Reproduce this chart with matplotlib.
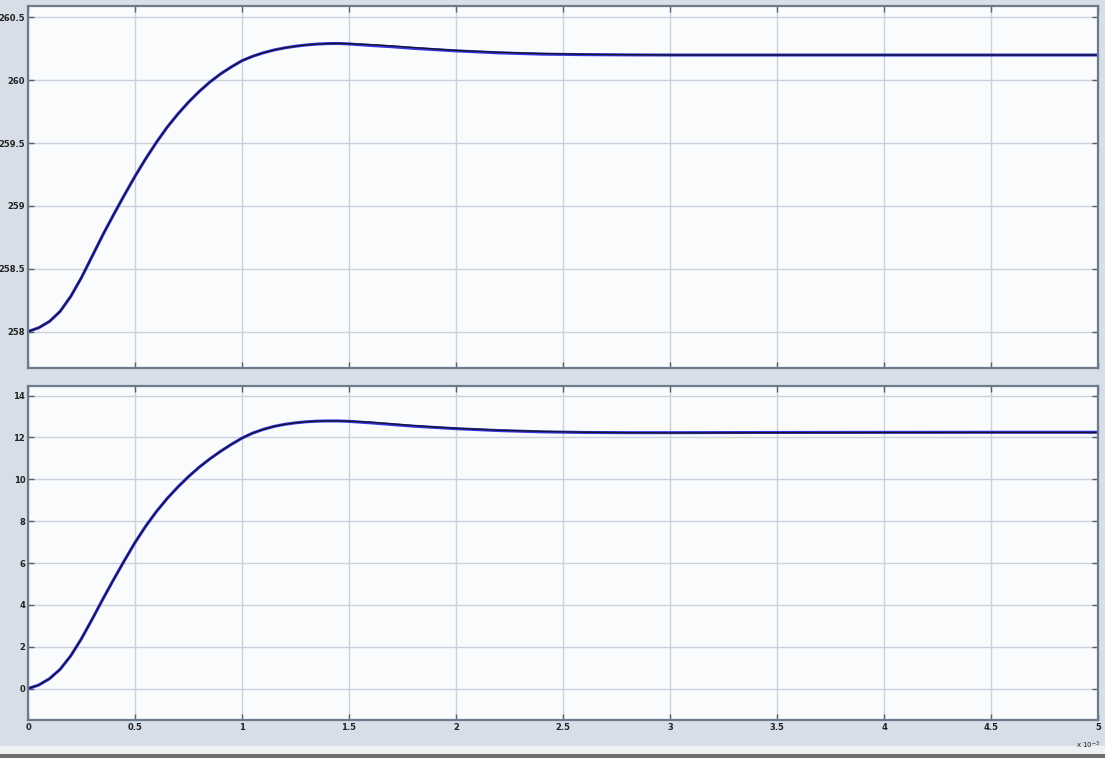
import matplotlib
matplotlib.use("Agg")
import matplotlib.pyplot as plt
from matplotlib.patches import Rectangle

# scope traces, time axis in units of 1e-3 s
t = [0.00, 0.05, 0.10, 0.15, 0.20, 0.25, 0.30, 0.35, 0.40, 0.45,
     0.50, 0.55, 0.60, 0.65, 0.70, 0.75, 0.80, 0.85, 0.90, 0.95,
     1.00, 1.05, 1.10, 1.15, 1.20, 1.25, 1.30, 1.35, 1.40, 1.45,
     1.50, 1.60, 1.70, 1.80, 1.90, 2.00, 2.20, 2.40, 2.60, 2.80,
     3.00, 3.50, 4.00, 4.50, 5.00]

# upper trace
top_ref = [258.00, 258.03, 258.08, 258.16, 258.28, 258.43, 258.60, 258.77, 258.93, 259.085,
           259.235, 259.375, 259.505, 259.625, 259.73, 259.825, 259.91, 259.985, 260.05, 260.105,
           260.155, 260.19, 260.218, 260.24, 260.257, 260.27, 260.28, 260.287, 260.291, 260.292,
           260.29, 260.283, 260.272, 260.26, 260.248, 260.237, 260.222, 260.212, 260.206, 260.203,
           260.20, 260.20, 260.20, 260.20, 260.20]
top_sim = [258.00, 258.03, 258.08, 258.16, 258.28, 258.43, 258.60, 258.77, 258.93, 259.085,
           259.235, 259.375, 259.505, 259.625, 259.73, 259.825, 259.91, 259.985, 260.05, 260.105,
           260.155, 260.19, 260.218, 260.24, 260.257, 260.27, 260.28, 260.287, 260.291, 260.292,
           260.288, 260.276, 260.266, 260.253, 260.243, 260.233, 260.217, 260.207, 260.203, 260.201,
           260.20, 260.20, 260.20, 260.20, 260.20]

# lower trace
bot_ref = [0.00, 0.17, 0.47, 0.92, 1.57, 2.39, 3.32, 4.28, 5.21, 6.11,
           6.98, 7.76, 8.46, 9.08, 9.63, 10.13, 10.58, 10.98, 11.34, 11.67,
           11.97, 12.21, 12.39, 12.53, 12.63, 12.70, 12.75, 12.78, 12.79, 12.79,
           12.78, 12.73, 12.65, 12.57, 12.50, 12.44, 12.35, 12.29, 12.25, 12.23,
           12.22, 12.23, 12.235, 12.24, 12.24]
bot_sim = [0.00, 0.17, 0.47, 0.92, 1.57, 2.39, 3.32, 4.28, 5.21, 6.11,
           6.98, 7.76, 8.46, 9.08, 9.63, 10.13, 10.58, 10.98, 11.34, 11.67,
           11.97, 12.21, 12.39, 12.53, 12.63, 12.70, 12.75, 12.78, 12.79, 12.79,
           12.77, 12.70, 12.62, 12.54, 12.48, 12.42, 12.33, 12.27, 12.24, 12.23,
           12.23, 12.24, 12.245, 12.25, 12.25]

x_ticks = [0, 0.5, 1, 1.5, 2, 2.5, 3, 3.5, 4, 4.5, 5]
x_labels = ["0", "0.5", "1", "1.5", "2", "2.5", "3", "3.5", "4", "4.5", "5"]
top_ticks = [258, 258.5, 259, 259.5, 260, 260.5]
top_labels = ["258", "258.5", "259", "259.5", "260", "260.5"]
bot_ticks = [0, 2, 4, 6, 8, 10, 12, 14]
bot_labels = ["0", "2", "4", "6", "8", "10", "12", "14"]

BG = "#d7dee7"
GRID = "#c8d1dc"
FRAME = "#6c7a8b"

W, H = 1105, 758
fig = plt.figure(figsize=(W / 100, H / 100), dpi=100, facecolor=BG)

ax1 = fig.add_axes([28 / W, 1 - 368 / H, 1070 / W, 362 / H])
ax2 = fig.add_axes([28 / W, 1 - 720 / H, 1070 / W, 334 / H])


def style(ax, yt, yl):
    ax.set_facecolor("#f9fbfd")
    ax.set_xlim(0, 5)
    ax.set_xticks(x_ticks)
    ax.set_yticks(yt)
    ax.set_yticklabels(yl)
    ax.grid(True, color=GRID, lw=1.0)
    ax.set_axisbelow(True)
    for s in ax.spines.values():
        s.set_color(FRAME)
        s.set_linewidth(1.6)
    ax.tick_params(direction="in", length=4, width=1, color="#56606c",
                   top=True, right=True, labelsize=6, pad=2)
    for lab in ax.get_xticklabels() + ax.get_yticklabels():
        lab.set_fontweight("bold")
        lab.set_color("#222222")


ax1.plot(t, top_sim, color="#3535e0", lw=2.2, solid_capstyle="butt")
ax1.plot(t, top_ref, color="#14142e", lw=1.0)
ax1.set_ylim(257.71, 260.59)
style(ax1, top_ticks, top_labels)
ax1.set_xticklabels([])

ax2.plot(t, bot_sim, color="#3535e0", lw=2.2, solid_capstyle="butt")
ax2.plot(t, bot_ref, color="#14142e", lw=1.0)
ax2.set_ylim(-1.5, 14.46)
style(ax2, bot_ticks, bot_labels)
ax2.set_xticklabels(x_labels)
for lab in ax2.get_xticklabels():
    lab.set_fontweight("bold")

fig.text(1088 / W, 1 - 745 / H, r"x 10$^{-3}$", fontsize=5, ha="center",
         va="center", color="#222222")

# window strip along the bottom edge
fig.add_artist(Rectangle((0, 0), 1, 4 / H, transform=fig.transFigure,
                         facecolor="#6e6e6e", edgecolor="none"))
fig.add_artist(Rectangle((0, 4 / H), 1, 8 / H, transform=fig.transFigure,
                         facecolor="#eef1f4", edgecolor="none"))

fig.savefig("out.png", dpi=100, facecolor=BG)
